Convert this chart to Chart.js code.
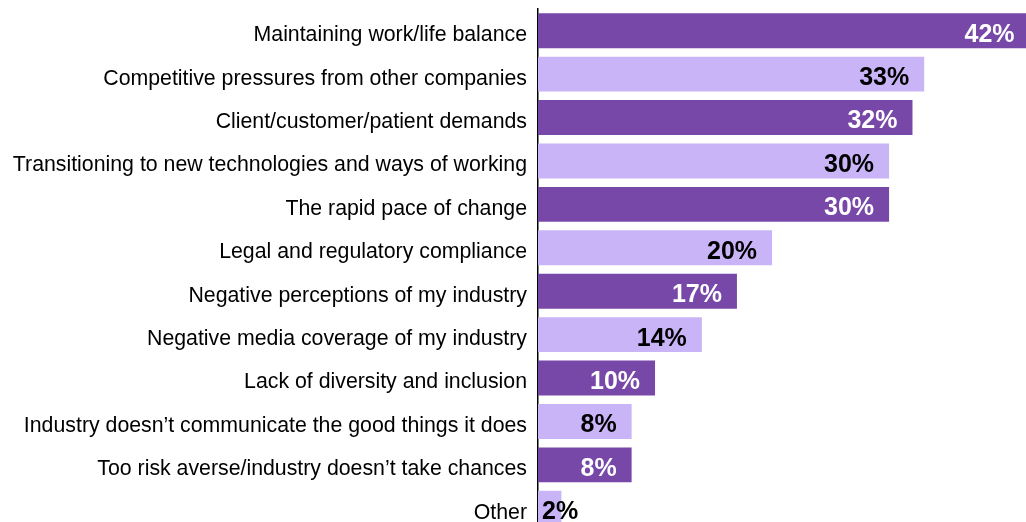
<!DOCTYPE html>
<html>
<head>
<meta charset="utf-8">
<script src="https://cdn.jsdelivr.net/npm/chart.js@4/dist/chart.umd.min.js"></script>
<style>
  html, body { margin: 0; padding: 0; overflow: hidden; background: #fff; }
  #wrap { width: 1026px; height: 540px; position: relative; }
</style>
</head>
<body>
<div id="wrap"><canvas id="challenges"></canvas></div>
<script>
'use strict';

var categories = [
    'Maintaining work/life balance',
    'Competitive pressures from other companies',
    'Client/customer/patient demands',
    'Transitioning to new technologies and ways of working',
    'The rapid pace of change',
    'Legal and regulatory compliance',
    'Negative perceptions of my industry',
    'Negative media coverage of my industry',
    'Lack of diversity and inclusion',
    'Industry doesn\u2019t communicate the good things it does',
    'Too risk averse/industry doesn\u2019t take chances',
    'Other'
];
var percents = [42, 33, 32, 30, 30, 20, 17, 14, 10, 8, 8, 2];

var DARK = '#7748A8';
var LIGHT = '#CAB4F8';
var barColors = percents.map(function (v, i) { return i % 2 === 0 ? DARK : LIGHT; });
var textColors = percents.map(function (v, i) { return i % 2 === 0 ? '#ffffff' : '#000000'; });

// draws the "42%" style labels inside the end of each bar
var valueLabels = {
    id: 'valueLabels',
    afterDatasetsDraw: function (chart) {
        var ctx = chart.ctx;
        var meta = chart.getDatasetMeta(0);
        var left = chart.chartArea.left;
        ctx.save();
        ctx.font = 'bold 25px "Liberation Sans", Arial, sans-serif';
        ctx.textAlign = 'right';
        ctx.textBaseline = 'middle';
        meta.data.forEach(function (bar, i) {
            var txt = percents[i] + '%';
            var w = ctx.measureText(txt).width;
            var x = Math.max(bar.x - 15, left + 4 + w);
            ctx.fillStyle = textColors[i];
            ctx.fillText(txt, x, bar.y + 4);
        });
        ctx.restore();
    }
};

var chart_body = new Chart(
    document.getElementById('challenges'),
    {
        type: 'bar',
        data: {
            labels: categories,
            datasets: [{
                data: percents,
                backgroundColor: barColors,
                borderWidth: 0,
                barPercentage: 0.806,
                categoryPercentage: 1
            }]
        },
        options: {
            indexAxis: 'y',
            responsive: true,
            maintainAspectRatio: false,
            animation: false,
            layout: { padding: { top: 9, bottom: 10, left: 0, right: 0 } },
            plugins: {
                legend: { display: false },
                tooltip: { enabled: false }
            },
            scales: {
                x: {
                    display: false,
                    min: 0,
                    max: 41.7
                },
                y: {
                    afterFit: function (scale) {
                        scale.width = 538;
                        scale.paddingTop = 0;
                        scale.paddingBottom = 0;
                    },
                    grid: { display: false, drawTicks: false },
                    border: { display: true, color: '#000000', width: 1.5 },
                    ticks: {
                        color: '#000000',
                        padding: 11,
                        labelOffset: 4.5,
                        font: { family: '"Liberation Sans", Arial, sans-serif', size: 21.3 }
                    }
                }
            }
        },
        plugins: [valueLabels]
    }
);
</script>
</body>
</html>
